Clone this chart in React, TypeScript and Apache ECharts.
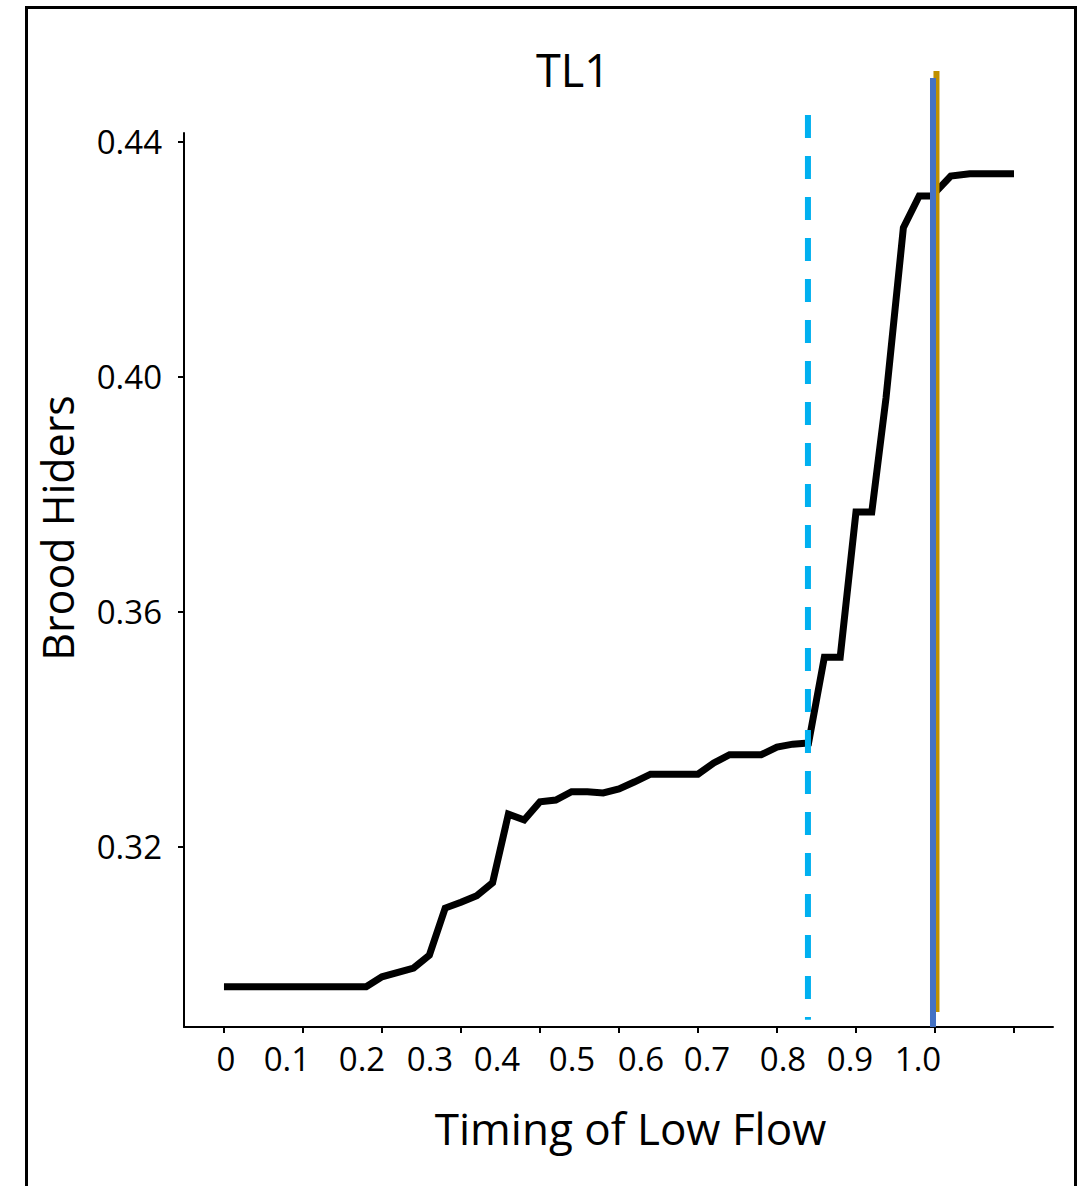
import React, { useEffect, useRef } from "react";
import * as echarts from "echarts";

// Black curve: x in axis-tick units (ticks at 0, 0.1, ... 1.0), y = Brood Hiders
const curveX = [0, 0.18, 0.2, 0.24, 0.26, 0.28, 0.3, 0.32, 0.34, 0.36, 0.38, 0.4, 0.42, 0.44, 0.46, 0.48, 0.5, 0.52, 0.54, 0.6, 0.62, 0.64, 0.68, 0.7, 0.72, 0.74, 0.76, 0.78, 0.8, 0.82, 0.838, 0.86, 0.88, 0.896, 0.92, 0.944, 1.0];
const curveY = [0.2962, 0.2962, 0.2979, 0.2994, 0.3016, 0.3096, 0.3106, 0.3117, 0.3139, 0.3256, 0.3246, 0.3277, 0.328, 0.3294, 0.3294, 0.3292, 0.3299, 0.3311, 0.3324, 0.3324, 0.3343, 0.3357, 0.3357, 0.337, 0.3375, 0.3377, 0.3523, 0.3523, 0.377, 0.377, 0.3964, 0.4254, 0.4308, 0.4308, 0.4342, 0.4346, 0.4346];

// Vertical reference lines: [x, yTop, yBottom]
const dashedLine = [0.7392, 0.4446, 0.2906];
const goldLine = [0.9019, 0.4521, 0.2919];
const blueLine = [0.8975, 0.4509, 0.28936];

// Axis ticks and labels
const xTickValues = [0, 0.1, 0.2, 0.3, 0.4, 0.5, 0.6, 0.7, 0.8, 0.9, 1.0];
const xLabelPositions = [0.0025, 0.0797, 0.1747, 0.2608, 0.3456, 0.4405, 0.5278, 0.6114, 0.7076, 0.7924, 0.8785];
const xLabels = ["0", "0.1", "0.2", "0.3", "0.4", "0.5", "0.6", "0.7", "0.8", "0.9", "1.0"];
const yTickValues = [0.32, 0.36, 0.4, 0.44];
const yLabels = ["0.32", "0.36", "0.40", "0.44"];

const FONT = "Open Sans";

export default function App() {
  const ref = useRef<HTMLDivElement>(null);
  useEffect(() => {
    if (!ref.current) return;
    const chart = echarts.init(ref.current, null, { renderer: "svg" });
    const vline = (l: number[], color: string, type: any, width: number, z: number) => ({
      type: "line",
      data: [
        [l[0], l[1]],
        [l[0], l[2]],
      ],
      clip: false,
      symbol: "none",
      silent: true,
      z,
      lineStyle: { color, width, type, cap: "butt" },
    });
    chart.setOption({
      animation: false,
      backgroundColor: "#ffffff",
      textStyle: { fontFamily: FONT },
      title: {
        text: "TL1",
        left: 568,
        top: 42,
        textAlign: "center",
        textStyle: { fontFamily: FONT, fontSize: 45, fontWeight: "normal", color: "#000" },
      },
      graphic: [
        {
          type: "rect",
          shape: { x: 26.5, y: 7.5, width: 1049, height: 1200 },
          style: { fill: "none", stroke: "#000", lineWidth: 3 },
          silent: true,
        },
      ],
      grid: { left: 184, right: 30, top: 133, bottom: 159 },
      xAxis: {
        type: "value",
        min: -0.0506,
        max: 1.0494,
        name: "Timing of Low Flow",
        nameLocation: "middle",
        nameGap: 79,
        nameTextStyle: { fontFamily: FONT, fontSize: 44, color: "#000", padding: [0, 0, 0, 24] },
        axisLine: { show: true, onZero: false, lineStyle: { color: "#000", width: 2 } },
        axisTick: { show: true, customValues: xTickValues, length: 6, lineStyle: { color: "#000", width: 2 } },
        axisLabel: {
          customValues: xLabelPositions,
          margin: 15,
          fontFamily: FONT,
          fontSize: 33,
          color: "#000",
          formatter: (v: number) => {
            let best = 0;
            for (let i = 1; i < xLabelPositions.length; i++) {
              if (Math.abs(xLabelPositions[i] - v) < Math.abs(xLabelPositions[best] - v)) best = i;
            }
            return xLabels[best];
          },
        },
        splitLine: { show: false },
      },
      yAxis: {
        type: "value",
        min: 0.28936,
        max: 0.44153,
        name: "Brood Hiders",
        nameLocation: "middle",
        nameGap: 105,
        nameRotate: 90,
        nameTextStyle: { fontFamily: FONT, fontSize: 43, color: "#000", padding: [0, 0, 0, 104] },
        axisLine: { show: true, onZero: false, lineStyle: { color: "#000", width: 2 } },
        axisTick: { show: true, customValues: yTickValues, length: 6, lineStyle: { color: "#000", width: 2 } },
        axisLabel: {
          customValues: yTickValues,
          margin: 22,
          fontFamily: FONT,
          fontSize: 33,
          color: "#000",
          formatter: (v: number) => {
            let best = 0;
            for (let i = 1; i < yTickValues.length; i++) {
              if (Math.abs(yTickValues[i] - v) < Math.abs(yTickValues[best] - v)) best = i;
            }
            return yLabels[best];
          },
        },
        splitLine: { show: false },
      },
      series: [
        {
          type: "line",
          data: curveX.map((x, i) => [x, curveY[i]]),
          symbol: "none",
          z: 2,
          lineStyle: { color: "#000", width: 7, cap: "butt", join: "miter" },
        },
        vline(dashedLine, "#00B0F0", [23, 18], 6, 3),
        vline(goldLine, "#BF9000", "solid", 6, 3),
        vline(blueLine, "#4472C4", "solid", 6, 4),
      ],
    });
    return () => chart.dispose();
  }, []);
  return (
    <div
      ref={ref}
      style={{ position: "fixed", left: 0, top: 0, width: 1083, height: 1186, background: "#fff" }}
    />
  );
}
